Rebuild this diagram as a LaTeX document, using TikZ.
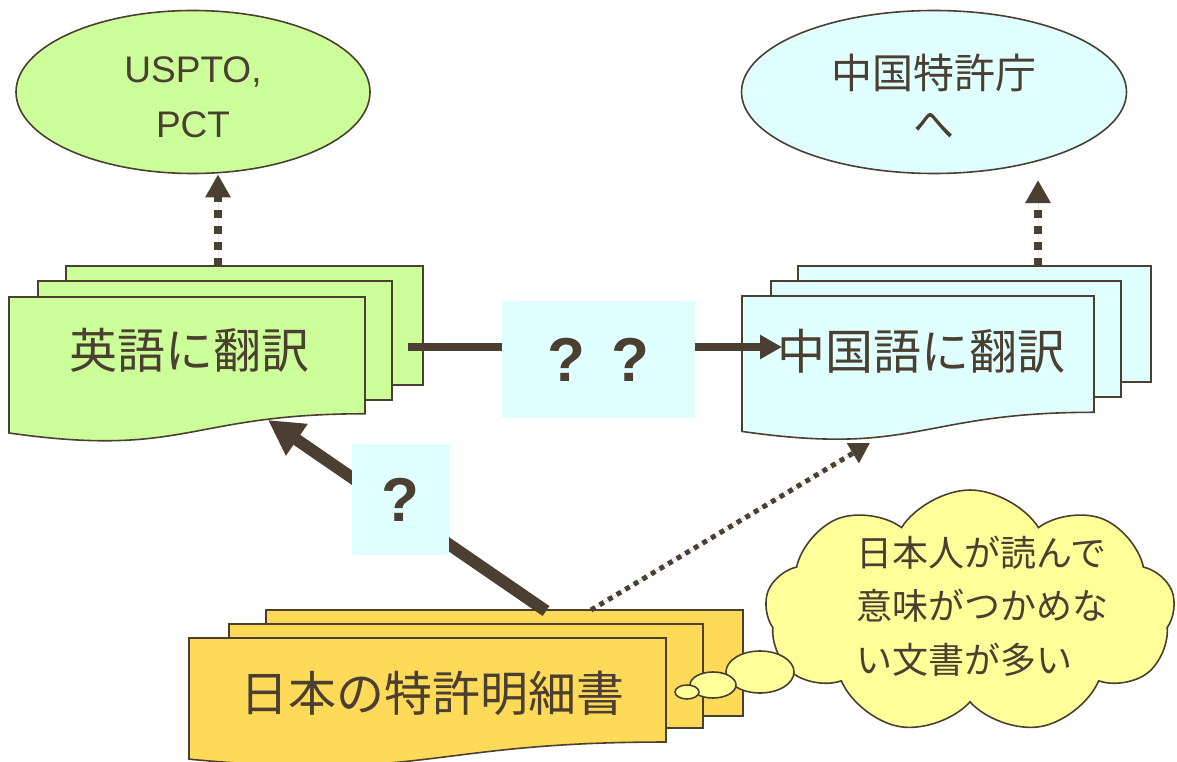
\documentclass[tikz,border=0pt]{standalone}
\usepackage{fontspec}
\setmainfont{Liberation Sans}
\newfontfamily\jp{Noto Sans CJK JP}
\usetikzlibrary{arrows.meta,shapes.geometric,shapes.symbols}
\definecolor{ink}{RGB}{74,63,48}
\definecolor{gfill}{RGB}{204,255,153}
\definecolor{bfill}{RGB}{224,255,255}
\definecolor{yfill}{RGB}{255,218,88}
\definecolor{cfill}{RGB}{255,255,153}
\definecolor{qfill}{RGB}{224,255,255}
\newcommand\docsheet[5]{\filldraw[docline,fill=#5] (#1,#2) rectangle ({#1+#3},{#2+#4});}
\newcommand\docfront[5]{\filldraw[docline,fill=#5] (#1,#2) -- ({#1+#3},#2) -- ({#1+#3},{#2+0.802*#4}) .. controls ({#1+0.5*#3},{#2+0.802*#4}) and ({#1+0.5*#3},{#2+1.1075*#4}) .. (#1,{#2+0.934*#4}) -- cycle;}
\begin{document}
\begin{tikzpicture}[x=1pt,y=-1pt,
  docline/.style={draw=ink,line width=1.6pt,line join=miter},
  oval/.style={ellipse,draw=ink,line width=1.6pt,inner sep=0pt},
  doctext/.style={text=ink,font=\jp\fontsize{48}{58}\selectfont,inner sep=0pt},
  qbox/.style={fill=qfill,inner sep=0pt,text=ink,font=\bfseries\fontsize{62}{70}\selectfont},
  dotarrow/.style={draw=ink,fill=ink,line width=8pt,dash pattern=on 8pt off 8pt,-{Triangle[length=23pt,width=24pt]}},
  thinarrow/.style={draw=ink,fill=ink,line width=5pt,dash pattern=on 5pt off 5pt,-{Triangle[length=20pt,width=22pt]}},
  solidarrow/.style={draw=ink,fill=ink,line width=8pt,-{Triangle[length=22pt,width=23pt]}},
  thickarrow/.style={draw=ink,fill=ink,line width=12pt,-{Triangle[length=35pt,width=36pt]}},
  bubble/.style={ellipse,draw=ink,line width=1.6pt,fill=cfill,inner sep=0pt}]
\useasboundingbox (0,0) rectangle (1177,762);

% top ovals
\node[oval,fill=gfill,minimum width=354pt,minimum height=163pt] (usp) at (193,92) {};
\node[text=ink,font=\fontsize{37}{55}\selectfont,align=center,inner sep=0pt] (usptxt) at (193,97.5) {USPTO,\\PCT};
\node[oval,fill=bfill,minimum width=385pt,minimum height=163pt] (cpo) at (934,92) {};
\node[text=ink,font=\jp\fontsize{41}{51}\selectfont,align=center,inner sep=0pt] (cpotxt) at (934,97) {中国特許庁\\へ};

% green document stack
\docsheet{66}{266}{357}{119}{gfill}
\docsheet{38}{281}{354}{119}{gfill}
\docfront{9}{297}{356}{145.6}{gfill}
\node[doctext] (eng) at (189,350) {英語に翻訳};

% blue document stack
\docsheet{798}{266}{353}{116}{bfill}
\docsheet{771}{281}{350}{116}{bfill}
\docfront{742}{296}{352}{145}{bfill}
\node[doctext] (chn) at (921,351) {中国語に翻訳};

% yellow document stack
\docsheet{266}{610}{477}{106}{yfill}
\docsheet{229}{624}{474}{104}{yfill}
\docfront{189}{638}{477}{129.7}{yfill}
\node[doctext] (jpn) at (432,693) {日本の特許明細書};

% connector end points
\coordinate (engtop) at (218,266);
\coordinate (chntop) at (1038,266);
\coordinate (cpoend) at (1038,180);
\coordinate (engright) at (408,347);
\coordinate (chnleft) at (782,347);
\coordinate (jpnA) at (546,611);
\coordinate (engbot) at (268,420);
\coordinate (jpnB) at (591,610);
\coordinate (chnbot) at (870,443);

\draw[dotarrow] (engtop) -- (engtop |- usp.south);
\draw[dotarrow] (chntop) -- (cpoend);
\draw[solidarrow] (engright) -- (chnleft);
\draw[thickarrow] (jpnA) -- (engbot);
\draw[thinarrow] (jpnB) -- (chnbot);

% question boxes
\node[qbox,minimum width=193pt,minimum height=117pt] (qq) at (598.5,359.5) {?\hspace{27pt}?\hspace{30pt}};
\node[qbox,minimum width=97pt,minimum height=111pt] (q1) at (400.5,499.5) {?};

% thought cloud
\node[cloud,cloud puffs=9,cloud puff arc=115,aspect=1.67,draw=ink,line width=1.6pt,fill=cfill,minimum width=410pt,minimum height=244pt,inner sep=0pt] (cl) at (970,612) {};
\node[bubble,minimum width=68pt,minimum height=42pt] (b3) at (760,672) {};
\node[bubble,minimum width=46pt,minimum height=26pt] (b2) at (713,685) {};
\node[bubble,minimum width=24pt,minimum height=14pt] (b1) at (687,692) {};
\node[text=ink,font=\jp\fontsize{36}{53.5}\selectfont,align=left,inner sep=0pt,anchor=west] (cltxt) at (856,606) {日本人が読んで\\意味がつかめな\\い文書が多い};
\end{tikzpicture}
\end{document}
